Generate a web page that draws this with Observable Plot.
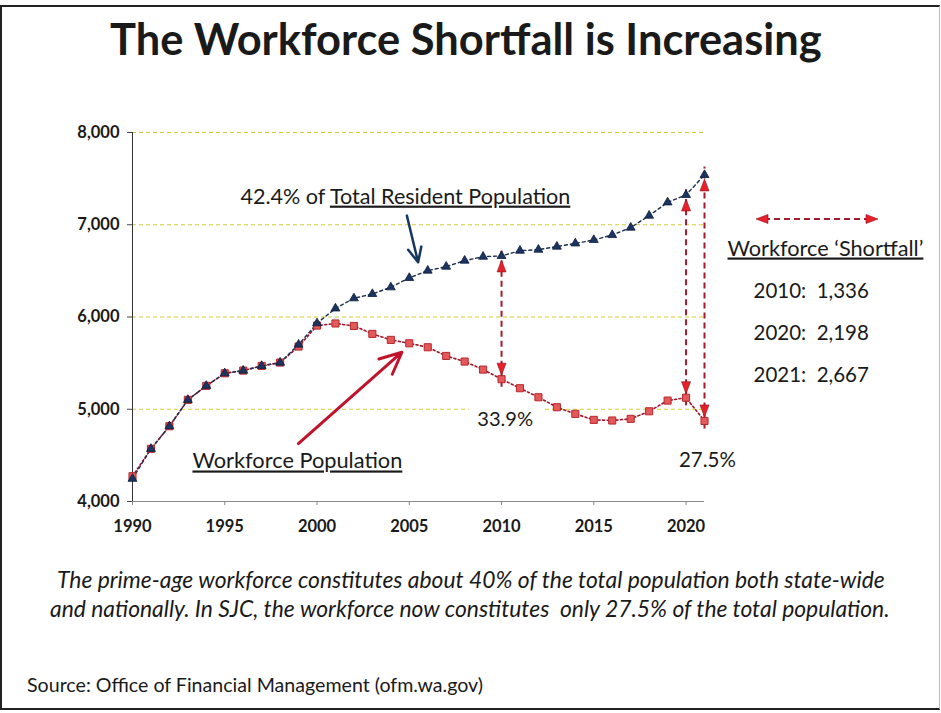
<!DOCTYPE html>
<html><head><meta charset="utf-8">
<script src="https://cdn.jsdelivr.net/npm/d3@7"></script>
<script src="https://cdn.jsdelivr.net/npm/@observablehq/plot@0.6"></script>
<style>
html,body{margin:0;padding:0;background:#fff;}
#page{position:relative;width:941px;height:713px;overflow:hidden;background:#fff;font-family:Lato,"Open Sans",sans-serif;color:#1a1a1a;}
.t{position:absolute;white-space:pre;line-height:1.2;}
#frame{position:absolute;left:0;top:5px;width:940px;height:705px;box-sizing:border-box;border-top:2px solid #222;border-left:2px solid #222;border-bottom:2px solid #222;border-right:1px solid #bbb;}
#chart{position:absolute;left:0;top:100px;}
#legendArrow{position:absolute;left:750px;top:209px;}
</style></head>
<body><div id="page">
<div id="frame"></div>
<div id="title" class="t" style="font-weight:bold">The Workforce Shortfall is Increasing</div>
<div id="chart"></div>
<svg id="legendArrow" width="136" height="20" viewBox="0 0 136 20">
  <line x1="14" y1="10" x2="118" y2="10" stroke="#a31b2e" stroke-width="2" stroke-dasharray="6,4"/>
  <polygon points="6,10 18,5.5 18,14.5" fill="#e8202a" stroke="#8b1020" stroke-width="0.6"/>
  <polygon points="128,10 116,5.5 116,14.5" fill="#e8202a" stroke="#8b1020" stroke-width="0.6"/>
</svg>
<div id="cap1" class="t" style="font-style:italic">The prime-age workforce constitutes about 40% of the total population both state-wide</div>
<div id="cap2" class="t" style="font-style:italic">and nationally. In SJC, the workforce now constitutes  only 27.5% of the total population.</div>
<div id="source" class="t">Source: Office of Financial Management (ofm.wa.gov)</div>
</div>
<script>
// ---- data ----
const years = [1990,1991,1992,1993,1994,1995,1996,1997,1998,1999,2000,2001,2002,2003,2004,2005,2006,2007,2008,2009,2010,2011,2012,2013,2014,2015,2016,2017,2018,2019,2020,2021];
const totalPop = [4246,4571,4816,5102,5254,5390,5419,5470,5506,5701,5932,6093,6203,6250,6322,6424,6503,6546,6611,6654,6662,6719,6730,6763,6798,6835,6889,6969,7099,7243,7323,7540];
const workforce = [4274,4571,4816,5102,5254,5390,5419,5470,5506,5680,5907,5930,5903,5817,5752,5715,5672,5578,5517,5430,5326,5228,5130,5022,4950,4885,4878,4896,4978,5094,5125,4873];
const shortfallYears = [2010, 2020, 2021];
const shortfallValues = [1336, 2198, 2667];
const shareLabels = ["33.9%", "27.5%"];
const yTicks = [4000, 5000, 6000, 7000, 8000];
const gridValues = [5000, 6000, 7000, 8000];
const xTicks = [1990, 1995, 2000, 2005, 2010, 2015, 2020];
const totalLabel = "42.4% of Total Resident Population";
const workforceLabel = "Workforce Population";
const legendTitle = "Workforce \u2018Shortfall\u2019";

const data = years.map((year, i) => ({year, total: totalPop[i], workforce: workforce[i]}));
const shortfall = shortfallYears.map(yr => {
  const i = years.indexOf(yr);
  return {year: yr, top: totalPop[i], bottom: workforce[i]};
});
const legendLines = shortfallYears.map((yr, i) => `${yr}:  ${d3.format(",")(shortfallValues[i])}`).join("\n");

const headUp = {draw(ctx){ ctx.moveTo(0,0); ctx.lineTo(4.5,12); ctx.lineTo(-4.5,12); ctx.closePath(); }};
const headDown = {draw(ctx){ ctx.moveTo(0,0); ctx.lineTo(4.5,-12); ctx.lineTo(-4.5,-12); ctx.closePath(); }};

const chart = Plot.plot({
  width: 941,
  height: 450,
  marginLeft: 132,
  marginRight: 237,
  marginTop: 32,
  marginBottom: 49,
  style: {fontFamily: "Lato, 'Open Sans', sans-serif", background: "transparent", color: "#1a1a1a", overflow: "visible"},
  x: {domain: [1990, 2021]},
  y: {domain: [4000, 8000]},
  marks: [
    Plot.ruleY(gridValues, {stroke: "#cfcf3a", strokeWidth: 1, strokeDasharray: "4,3"}),
    Plot.ruleY([4000], {stroke: "#8a8a8a", strokeWidth: 1}),
    Plot.ruleX([1990], {y1: 4000, y2: 8000, stroke: "#333", strokeWidth: 1}),
    Plot.axisY(yTicks, {tickFormat: d3.format(","), tickSize: 5, tickPadding: 8, fontSize: 16.5, fontWeight: "bold", label: null, stroke: "#444"}),
    Plot.axisX(xTicks, {tickFormat: d => String(d), tickSize: 4, tickPadding: 15, fontSize: 16.5, fontWeight: "bold", label: null, stroke: "#888"}),
    Plot.line(data, {x: "year", y: "workforce", stroke: "#a0122a", strokeWidth: 1.6, strokeDasharray: "2,2.5"}),
    Plot.line(data, {x: "year", y: "total", stroke: "#1f2f4f", strokeWidth: 1.4, strokeDasharray: "3,3"}),
    Plot.ruleX(shortfall, {x: "year", y1: "bottom", y2: "top", stroke: "#a31b2e", strokeWidth: 2, strokeDasharray: "6,4", insetTop: 8, insetBottom: 8}),
    Plot.dot(shortfall, {x: "year", y: "top", symbol: headUp, dy: 4, fill: "#e8202a", stroke: "#8b1020", strokeWidth: 0.6}),
    Plot.dot(shortfall, {x: "year", y: "bottom", symbol: headDown, dy: -4, fill: "#e8202a", stroke: "#8b1020", strokeWidth: 0.6}),
    Plot.dot(data, {x: "year", y: "workforce", symbol: "square", r: 4, fill: "#e35a5a", stroke: "#b8262e", strokeWidth: 1}),
    Plot.dot(data, {x: "year", y: "total", symbol: "triangle", r: 3.3, fill: "#1c3461", stroke: "#0e1c38", strokeWidth: 0.8}),
    Plot.arrow([0], {x1: 2004.87, y1: 7099, x2: 2005.48, y2: 6593, stroke: "#17375e", strokeWidth: 2.5, headLength: 13, headAngle: 50}),
    Plot.arrow([0], {x1: 1998.99, y1: 4628, x2: 2004.6, y2: 5618, stroke: "#c0142c", strokeWidth: 3, headLength: 12, headAngle: 50}),
    Plot.text([totalLabel], {text: d => d, x: 1995.85, y: 7229, textAnchor: "start", lineAnchor: "bottom", fontSize: 20, fill: "#1a1a1a"}),
    Plot.text([workforceLabel], {text: d => d, x: 1993.25, y: 4358, textAnchor: "start", lineAnchor: "bottom", fontSize: 20, fill: "#1a1a1a"}),
    Plot.text([shareLabels[0]], {text: d => d, x: 2010.2, y: 4823, textAnchor: "middle", lineAnchor: "bottom", fontSize: 20, fill: "#1a1a1a", stroke: "white", strokeWidth: 22}),
    Plot.text([shareLabels[1]], {text: d => d, x: 2021.16, y: 4379, textAnchor: "middle", lineAnchor: "bottom", fontSize: 20, fill: "#1a1a1a"}),
    Plot.text([legendTitle], {text: d => d, frameAnchor: "top-left", dx: 595, dy: 123, textAnchor: "start", lineAnchor: "bottom", fontSize: 20, fill: "#1a1a1a"}),
    Plot.text([legendLines], {text: d => d, frameAnchor: "top-left", dx: 621, dy: 249.7, textAnchor: "start", lineAnchor: "bottom", fontSize: 20.5, lineHeight: 42 / 20.5, fill: "#1a1a1a"})
  ]
});
document.getElementById("chart").appendChild(chart);

// ---- text styling / fitting ----
const svgNS = "http://www.w3.org/2000/svg";
function fitSvg(el, target) {
  const fs = parseFloat(el.getAttribute("font-size") || getComputedStyle(el).fontSize);
  const w = el.getBBox().width;
  if (w > 0) el.setAttribute("font-size", fs * target / w);
}
for (const t of chart.querySelectorAll("text")) {
  t.style.whiteSpace = "pre";
  const s = t.textContent;
  if (s === totalLabel) {
    t.textContent = "42.4% of ";
    const ts = document.createElementNS(svgNS, "tspan");
    ts.textContent = "Total Resident Population";
    ts.setAttribute("text-decoration", "underline");
    t.appendChild(ts);
    fitSvg(t, 330);
  } else if (s === workforceLabel) {
    t.setAttribute("text-decoration", "underline");
    fitSvg(t, 210);
  } else if (s === legendTitle) {
    t.setAttribute("text-decoration", "underline");
    fitSvg(t, 196);
  } else if (s === shareLabels[0]) {
    fitSvg(t, 56);
  } else if (s === shareLabels[1]) {
    fitSvg(t, 57);
  }
}

function baselineOffset(el) {
  const m = document.createElement("span");
  m.style.cssText = "display:inline-block;width:0;height:0;vertical-align:baseline;";
  el.appendChild(m);
  const off = m.getBoundingClientRect().top - el.getBoundingClientRect().top;
  el.removeChild(m);
  return off;
}
function place(id, left, right, baseline) {
  const el = document.getElementById(id);
  el.style.fontSize = "20px";
  el.style.left = "0px"; el.style.top = "0px";
  const w = el.getBoundingClientRect().width;
  const fs = 20 * (right - left) / w;
  el.style.fontSize = fs + "px";
  el.style.left = left + "px";
  el.style.top = (baseline - baselineOffset(el)) + "px";
}
place("title", 110, 822, 55);
place("cap1", 57, 885, 588);
place("cap2", 50, 890, 617);
place("source", 27, 483, 692);
</script>
</body></html>
